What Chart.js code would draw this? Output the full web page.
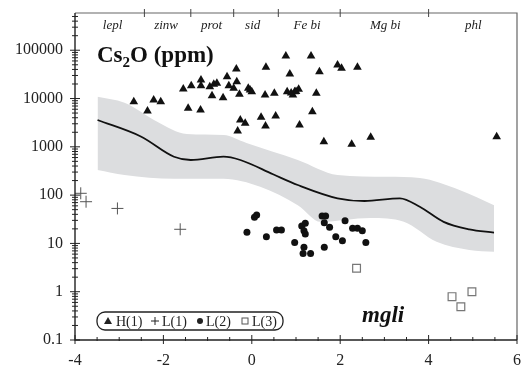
<!DOCTYPE html>
<html>
<head>
<meta charset="utf-8">
<script src="https://cdn.jsdelivr.net/npm/chart.js@4.4.1/dist/chart.umd.min.js"></script>
<style>
    html, body { margin: 0; padding: 0; background: #fff; }
    #chart { display: block; }
</style>
</head>
<body>
<canvas id="chart" width="524" height="368"></canvas>
<script>
// H(1) triangles
const triX = [-2.67, -2.22, -2.06, -2.36, -1.44, -1.16, -1.55, -1.37, -1.15, -1.15, -0.95, -0.86, -0.79, -0.90,
    -0.65, -0.56, -0.35, -0.52, -0.41, -0.34, -0.28, -0.08, -0.04, -0.26, -0.15, -0.32, 0.77, 1.34, 0.32, 0.86,
    1.53, 1.94, 2.03, 2.39, 0.00, 0.30, 0.51, 0.80, 0.97, 1.06, 0.93, 1.00, 0.89, 1.46, 0.21, 0.54, 0.31, 1.37,
    1.08, 1.63, 2.26, 2.69, 5.54];
const triY = [8590, 9310, 8590, 5510, 6260, 5780, 15700, 18400, 24200, 18400, 17500, 19700, 20700, 11400,
    10400, 28300, 40800, 18400, 16300, 22300, 12200, 16300, 15000, 3590, 3070, 2120, 75900, 75900, 44300, 32100,
    35900, 49400, 42200, 44300, 13800, 11800, 12800, 13800, 13800, 15500, 11800, 14000, 13000, 12800, 4080, 4350, 2700, 5330,
    2830, 1280, 1130, 1570, 1620];

// L(1) crosses
const crossX = [-3.87, -3.75, -3.04, -1.62];
const crossY = [109, 73, 53, 19.6];

// L(2) dots
const dotX = [0.11, 0.06, -0.11, 0.33, 0.56, 0.67, 1.13, 1.21, 1.18, 1.21, 0.97, 1.18, 1.16, 1.33,
    1.59, 1.67, 1.64, 1.76, 1.64, 1.90, 2.05, 2.11, 2.28, 2.39, 2.50, 2.58];
const dotY = [38.7, 34.7, 17.0, 13.8, 18.9, 18.9, 22.9, 26.1, 18.3, 15.7, 10.5, 8.3, 6.2, 6.2,
    36.9, 36.9, 26.9, 21.5, 8.3, 13.8, 11.4, 29.5, 20.6, 20.6, 18.3, 10.4];

// L(3) squares
const sqX = [2.37, 4.53, 4.73, 4.98];
const sqY = [3.05, 0.79, 0.49, 1.0];

// trend line and envelope
const lineX = [-3.49, -2.50, -1.76, -1.38, -0.64, -0.26, 0.48, 1.04, 1.94, 2.55, 3.35, 3.80, 4.34, 4.92, 5.48];
const lineY = [3590, 1620, 624, 533, 624, 533, 270, 162, 86, 75.5, 86, 57.5, 28, 19.6, 16.7];
const bandTopX = [-3.49, -2.88, -2.14, -1.47, -0.64, -0.12, 1.04, 1.94, 3.06, 3.80, 4.70, 5.48];
const bandTopY = [10900, 8180, 3310, 1840, 1750, 1200, 533, 261, 240, 226, 128, 62];
const bandBotX = [-3.49, -2.88, -1.76, -0.64, 0.19, 1.04, 1.56, 2.68, 3.44, 4.18, 4.92, 5.48];
const bandBotY = [331, 261, 219, 219, 149, 62, 28, 33.6, 28, 10.8, 7.3, 6.7];

// axes
const xTicks = [-4, -2, 0, 2, 4, 6];
const yTicks = [0.1, 1, 10, 100, 1000, 10000, 100000];
const zoneNames = ['lepl', 'zinw', 'prot', 'sid', 'Fe bi', 'Mg bi', 'phl'];
const zoneX = [-3.15, -1.94, -0.91, 0.02, 1.25, 3.02, 5.01];
const zoneBounds = [-2.43, -1.38, -0.41, 0.60, 2.00, 4.00];

const SERIF = '"Liberation Serif", "DejaVu Serif", serif';

function pts(xs, ys) {
    return xs.map((x, i) => ({ x: x, y: ys[i] }));
}

// frame, tick marks and the texts drawn inside the plot
const decorPlugin = {
    id: 'decor',
    afterDatasetsDraw(chart) {
        const ctx = chart.ctx;
        const xs = chart.scales.x;
        const ys = chart.scales.y;
        const a = chart.chartArea;
        ctx.save();

        // top and right border
        ctx.strokeStyle = '#666';
        ctx.lineWidth = 1.2;
        ctx.beginPath();
        ctx.moveTo(a.left, a.top);
        ctx.lineTo(a.right, a.top);
        ctx.lineTo(a.right, a.bottom);
        ctx.stroke();

        // left and bottom axes
        ctx.strokeStyle = '#222';
        ctx.lineWidth = 1.4;
        ctx.beginPath();
        ctx.moveTo(a.left, a.top);
        ctx.lineTo(a.left, a.bottom);
        ctx.lineTo(a.right, a.bottom);
        ctx.stroke();

        // y log ticks
        ctx.lineWidth = 1;
        ctx.beginPath();
        for (let d = -1; d <= 5; d++) {
            for (let k = 1; k <= 9; k++) {
                const v = k * Math.pow(10, d);
                if (v > ys.max) break;
                const py = ys.getPixelForValue(v);
                const len = k === 1 ? 5 : 3;
                ctx.moveTo(a.left - len, py);
                ctx.lineTo(a.left + len, py);
            }
        }
        // x ticks
        for (let v = -4; v <= 6.001; v += 0.5) {
            const px = xs.getPixelForValue(v);
            const major = Math.abs(v % 2) < 0.001;
            ctx.moveTo(px, a.bottom - (major ? 5 : 3));
            ctx.lineTo(px, a.bottom + (major ? 4 : 1));
        }
        ctx.stroke();

        // zone boundaries on the top border
        ctx.strokeStyle = '#444';
        ctx.beginPath();
        zoneBounds.forEach(v => {
            const px = xs.getPixelForValue(v);
            ctx.moveTo(px, a.top - 4);
            ctx.lineTo(px, a.top + 4);
        });
        ctx.stroke();

        // zone names
        ctx.fillStyle = '#222';
        ctx.font = 'italic 13px ' + SERIF;
        ctx.textAlign = 'center';
        ctx.textBaseline = 'alphabetic';
        zoneNames.forEach((name, i) => {
            ctx.fillText(name, xs.getPixelForValue(zoneX[i]), 29);
        });

        // Cs2O (ppm)
        ctx.textAlign = 'left';
        ctx.fillStyle = '#111';
        let x = 97;
        const base = 62;
        ctx.font = 'bold 23px ' + SERIF;
        ctx.fillText('Cs', x, base);
        x += ctx.measureText('Cs').width;
        ctx.font = 'bold 15px ' + SERIF;
        ctx.fillText('2', x, base + 5);
        x += ctx.measureText('2').width;
        ctx.font = 'bold 23px ' + SERIF;
        ctx.fillText('O (ppm)', x, base);

        // mgli
        ctx.font = 'bold italic 23px ' + SERIF;
        ctx.fillText('mgli', 362, 322);

        // legend box
        ctx.strokeStyle = '#222';
        ctx.lineWidth = 1.3;
        ctx.beginPath();
        ctx.roundRect(97, 312, 186, 18, 8);
        ctx.stroke();

        const ly = 321;
        ctx.font = '14px ' + SERIF;
        ctx.textBaseline = 'middle';
        ctx.fillStyle = '#222';
        // triangle
        ctx.beginPath();
        ctx.moveTo(108, ly - 4);
        ctx.lineTo(112, ly + 3);
        ctx.lineTo(104, ly + 3);
        ctx.closePath();
        ctx.fill();
        ctx.fillText('H(1)', 116, ly + 1);
        // cross
        ctx.lineWidth = 1;
        ctx.beginPath();
        ctx.moveTo(151, ly);
        ctx.lineTo(159, ly);
        ctx.moveTo(155, ly - 4);
        ctx.lineTo(155, ly + 4);
        ctx.stroke();
        ctx.fillText('L(1)', 162, ly + 1);
        // dot
        ctx.beginPath();
        ctx.arc(200, ly, 3, 0, Math.PI * 2);
        ctx.fill();
        ctx.fillText('L(2)', 206, ly + 1);
        // square
        ctx.strokeStyle = '#555';
        ctx.strokeRect(242, ly - 3, 6, 6);
        ctx.fillText('L(3)', 252, ly + 1);

        ctx.restore();
    }
};

new Chart(document.getElementById('chart'), {
    type: 'scatter',
    data: {
        datasets: [
            {
                label: 'H(1)',
                data: pts(triX, triY),
                pointStyle: 'triangle',
                pointRadius: 5,
                backgroundColor: '#111',
                borderColor: '#111',
                borderWidth: 0,
                order: 0
            },
            {
                label: 'L(1)',
                data: pts(crossX, crossY),
                pointStyle: 'cross',
                pointRadius: 6,
                borderColor: '#555',
                borderWidth: 1,
                order: 0
            },
            {
                label: 'L(2)',
                data: pts(dotX, dotY),
                pointStyle: 'circle',
                pointRadius: 3.5,
                backgroundColor: '#111',
                borderColor: '#111',
                borderWidth: 0,
                order: 0
            },
            {
                label: 'L(3)',
                data: pts(sqX, sqY),
                pointStyle: 'rect',
                pointRadius: 5.5,
                backgroundColor: '#fff',
                borderColor: '#777',
                borderWidth: 1.2,
                order: 0
            },
            {
                label: 'trend',
                type: 'line',
                data: pts(lineX, lineY),
                showLine: true,
                borderColor: '#111',
                borderWidth: 1.8,
                pointRadius: 0,
                cubicInterpolationMode: 'monotone',
                fill: false,
                order: 1
            },
            {
                label: 'band top',
                type: 'line',
                data: pts(bandTopX, bandTopY),
                showLine: true,
                borderWidth: 0,
                borderColor: 'rgba(0,0,0,0)',
                backgroundColor: '#dcdddf',
                pointRadius: 0,
                cubicInterpolationMode: 'monotone',
                fill: '+1',
                order: 2
            },
            {
                label: 'band bottom',
                type: 'line',
                data: pts(bandBotX, bandBotY),
                showLine: true,
                borderWidth: 0,
                borderColor: 'rgba(0,0,0,0)',
                pointRadius: 0,
                cubicInterpolationMode: 'monotone',
                fill: false,
                order: 3
            }
        ]
    },
    options: {
        responsive: false,
        animation: false,
        events: [],
        layout: { padding: { top: 13, right: 3, left: 0, bottom: 0 } },
        plugins: {
            legend: { display: false },
            tooltip: { enabled: false }
        },
        scales: {
            x: {
                type: 'linear',
                min: -4,
                max: 6,
                grid: { display: false, drawTicks: false },
                border: { display: false },
                afterBuildTicks: scale => { scale.ticks = xTicks.map(v => ({ value: v })); },
                afterFit: scale => {
                    scale.height = 28;
                    scale.paddingLeft = 0;
                    scale.paddingRight = 0;
                },
                ticks: {
                    padding: 11,
                    color: '#222',
                    font: { family: SERIF, size: 16 },
                    callback: v => String(v)
                }
            },
            y: {
                type: 'logarithmic',
                min: 0.1,
                max: 590000,
                grid: { display: false, drawTicks: false },
                border: { display: false },
                afterBuildTicks: scale => { scale.ticks = yTicks.map(v => ({ value: v })); },
                afterFit: scale => {
                    scale.width = 75;
                    scale.paddingTop = 0;
                    scale.paddingBottom = 0;
                },
                ticks: {
                    padding: 12,
                    color: '#222',
                    font: { family: SERIF, size: 16 },
                    callback: v => String(v)
                }
            }
        }
    },
    plugins: [decorPlugin]
});
</script>
</body>
</html>
